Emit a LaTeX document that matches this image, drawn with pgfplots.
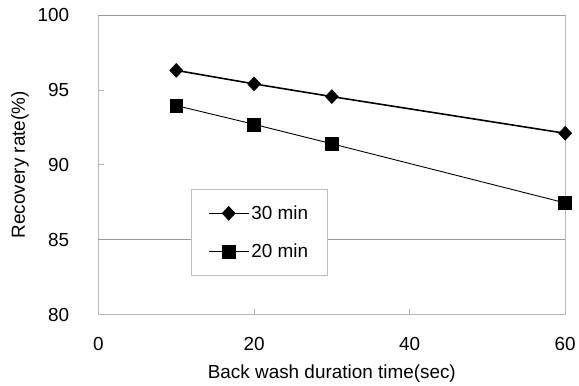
\documentclass[border=0pt]{standalone}
\usepackage{fontspec}
\setmainfont{Liberation Sans}
\usepackage{pgfplots}
\pgfplotsset{compat=1.18}
\begin{document}
\begin{tikzpicture}
\begin{axis}[
  scale only axis,
  width=469pt, height=301pt,
  xmin=0, xmax=60, ymin=80, ymax=100,
  xtick={0,20,40,60}, ytick={80,85,90,95,100},
  /pgf/number format/assume math mode=true,
  tick label style={font=\fontsize{19}{22}\selectfont},
  yticklabel style={xshift=-26pt},
  xticklabel style={yshift=-19pt},
  label style={font=\fontsize{19}{22}\selectfont},
  xlabel={Back wash duration time(sec)},
  ylabel={Recovery rate(\%)},
  xlabel style={at={(axis description cs:0.5,-0.196)}, anchor=center},
  ylabel style={at={(axis description cs:-0.168,0.5)}, anchor=center, rotate=0},
  axis line style={gray!55, line width=0.6pt},
  tick style={gray!60, line width=0.6pt},
  major tick length=6pt,
  tick align=inside,
  xtick pos=bottom, ytick pos=left,
  extra y ticks={85,100},
  extra y tick labels={},
  extra y tick style={grid=major, major tick length=0pt},
  grid style={gray!80, line width=0.7pt},
  legend style={at={(0.198,0.419)}, anchor=north west,
    draw=gray!50, line width=0.6pt,
    font=\fontsize{19}{22}\selectfont,
    inner xsep=17pt, inner ysep=14.5pt, row sep=19pt},
  legend image code/.code={\draw[mark repeat=2,mark phase=2] plot coordinates {(0cm,0cm) (0.7cm,0cm) (1.4cm,0cm)};},
  legend cell align=left,
]
\addplot[black, line width=1.6pt, mark=diamond*, mark size=7pt, mark options={solid, line width=0.5pt, xscale=1.25}]
  coordinates {(10,96.3) (20,95.4) (30,94.55) (60,92.1)};
\addlegendentry{30 min}
\addplot[black, line width=0.9pt, mark=square*, mark size=6.5pt, mark options={solid, line width=0.5pt}]
  coordinates {(10,93.95) (20,92.7) (30,91.4) (60,87.45)};
\addlegendentry{20 min}
\end{axis}
\path ([xshift=-8pt]current axis.outer west);
\path ([yshift=5pt]current axis.outer north);
\end{tikzpicture}
\end{document}
